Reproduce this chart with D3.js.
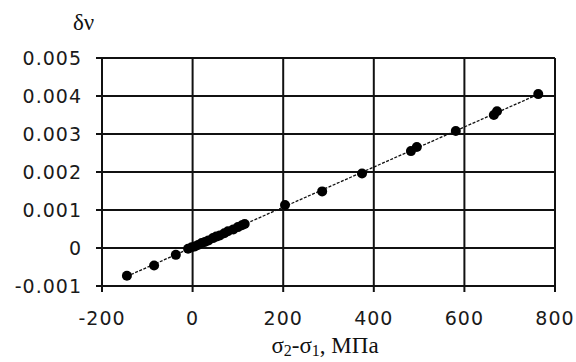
<!DOCTYPE html>
<html lang="en">
<head>
<meta charset="UTF-8">
<title>dv vs stress</title>
<script src="https://d3js.org/d3.v7.min.js"></script>
<style>
  body { margin:0; background:#fff; }
  .tick-label { font-family:'DejaVu Sans', sans-serif; font-size:19px; letter-spacing:1px; fill:#1a1a1a; }
  .title { font-family:'Liberation Serif', serif; fill:#111; }
</style>
</head>
<body>
<script>

// data
var stress = [-145, -85, -37, -10, -2, 5, 12, 20, 27, 35, 45, 52, 60, 70, 78, 90, 100, 109, 115,
              204, 286, 374, 482, 495, 581, 665, 672, 763];
var dnu = [-0.00073, -0.00046, -0.00018, -0.00002, 0.00002, 0.00004, 0.00008, 0.00013, 0.00016,
           0.0002, 0.00026, 0.0003, 0.00033, 0.00039, 0.00044, 0.00049, 0.00055, 0.0006, 0.00063,
           0.00113, 0.00149, 0.00196, 0.00255, 0.00266, 0.00308, 0.0035, 0.0036, 0.00405];
var xTicks = [-200, 0, 200, 400, 600, 800];
var yTicks = [-0.001, 0, 0.001, 0.002, 0.003, 0.004, 0.005];

var width = 576, height = 362;
var margin = {left:102, top:58, right:21, bottom:76};

var svg = d3.select("body").append("svg").attr("width", width).attr("height", height);

var x = d3.scaleLinear().domain([-200, 800]).range([margin.left, width - margin.right]);
var y = d3.scaleLinear().domain([-0.001, 0.005]).range([height - margin.bottom, margin.top]);

// grid
svg.append("g").selectAll("line").data(xTicks).enter().append("line")
  .attr("x1", function(d){ return x(d); }).attr("x2", function(d){ return x(d); })
  .attr("y1", y(0.005)).attr("y2", y(-0.001) + 6)
  .attr("stroke", "#111").attr("stroke-width", 2);
svg.append("g").selectAll("line").data(yTicks).enter().append("line")
  .attr("y1", function(d){ return y(d); }).attr("y2", function(d){ return y(d); })
  .attr("x1", x(-200) - 6).attr("x2", x(800))
  .attr("stroke", "#111").attr("stroke-width", 2);

// tick labels (plain hyphen like the original)
function fmt(d, p) { return (d === 0 ? "0" : d3.format(p)(d)).replace("\u2212", "-"); }
svg.append("g").selectAll("text").data(yTicks).enter().append("text")
  .attr("class", "tick-label")
  .attr("x", 82).attr("y", function(d){ return y(d); })
  .attr("dy", "0.36em").attr("text-anchor", "end")
  .text(function(d){ return fmt(d, ".3f"); });
svg.append("g").selectAll("text").data(xTicks).enter().append("text")
  .attr("class", "tick-label")
  .attr("x", function(d){ return x(d); }).attr("y", 325)
  .attr("text-anchor", "middle")
  .text(function(d){ return fmt(d, "d"); });

// trend line (least squares)
var n = stress.length, mx = d3.mean(stress), my = d3.mean(dnu);
var sxy = 0, sxx = 0;
for (var i = 0; i < n; i++) { sxy += (stress[i]-mx)*(dnu[i]-my); sxx += (stress[i]-mx)*(stress[i]-mx); }
var slope = sxy / sxx, icpt = my - slope * mx;
var ext = d3.extent(stress);
svg.append("path")
  .attr("d", d3.line()([[x(ext[0]), y(icpt + slope*ext[0])], [x(ext[1]), y(icpt + slope*ext[1])]]))
  .attr("stroke", "#111").attr("stroke-width", 1.3).attr("stroke-dasharray", "3,1.5").attr("fill", "none");

// points
svg.append("g").selectAll("circle").data(stress).enter().append("circle")
  .attr("cx", function(d){ return x(d); })
  .attr("cy", function(d, i){ return y(dnu[i]); })
  .attr("r", 5).attr("fill", "#000");

// axis titles
svg.append("text").attr("class", "title").attr("x", 73).attr("y", 30)
  .attr("font-size", 23).text("δν");
var xt = svg.append("text").attr("class", "title").attr("x", 325).attr("y", 353)
  .attr("text-anchor", "middle").attr("font-size", 23);
xt.append("tspan").text("σ");
xt.append("tspan").attr("font-size", 16).attr("dy", 3).text("2");
xt.append("tspan").attr("dy", -3).text("-σ");
xt.append("tspan").attr("font-size", 16).attr("dy", 3).text("1");
xt.append("tspan").attr("dy", -3).text(", МПа");

</script>
</body>
</html>
